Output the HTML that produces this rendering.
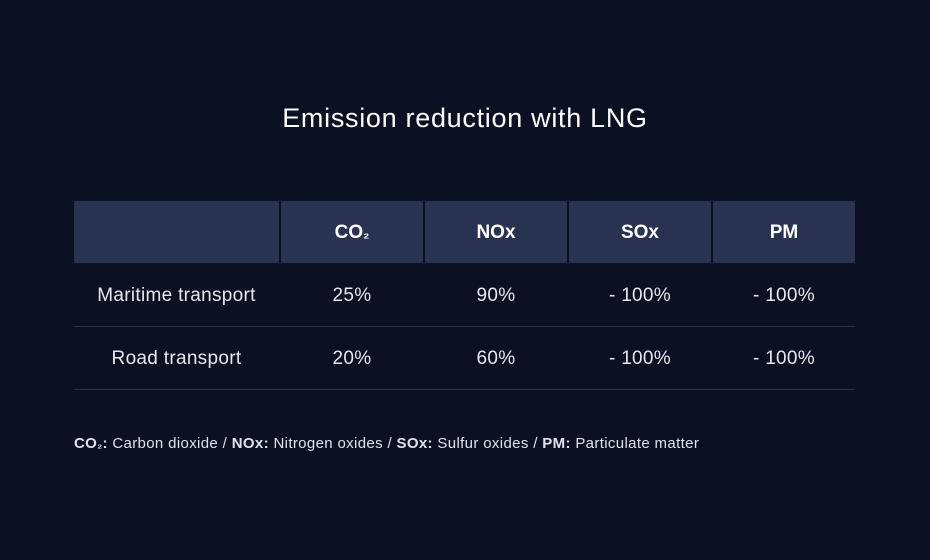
<!DOCTYPE html>
<html><head><style>
body{margin:0;width:930px;height:560px;background:#0b1123;font-family:"Liberation Sans",sans-serif;color:#e6e8ee;position:relative;overflow:hidden}
.a{position:absolute}
.t{left:0;width:930px;top:103px;text-align:center;font-size:27px;color:#fff;letter-spacing:0.7px}
.h{top:201px;height:62px;background:#283352;color:#fff;font-weight:bold;font-size:19px;line-height:64px;text-align:center}
.c{font-size:19px;text-align:center;height:62px;line-height:64px;letter-spacing:0.3px}
.l{left:74px;width:781px;height:1px;background:#29324a}
.f{left:74px;top:435px;font-size:15px;color:#dfe2ea;letter-spacing:0.35px}
</style></head><body>
<div class="a t">Emission reduction with LNG</div>
<div class="a h" style="left:74px;width:205px"></div>
<div class="a h" style="left:281px;width:142px">CO<span style="font-size:14px">₂</span></div>
<div class="a h" style="left:425px;width:142px">NOx</div>
<div class="a h" style="left:569px;width:142px">SOx</div>
<div class="a h" style="left:713px;width:142px">PM</div>

<div class="a c" style="top:264px;left:74px;width:205px">Maritime transport</div>
<div class="a c" style="top:264px;left:281px;width:142px">25%</div>
<div class="a c" style="top:264px;left:425px;width:142px">90%</div>
<div class="a c" style="top:264px;left:569px;width:142px">- 100%</div>
<div class="a c" style="top:264px;left:713px;width:142px">- 100%</div>
<div class="a l" style="top:326px"></div>
<div class="a c" style="top:327px;left:74px;width:205px">Road transport</div>
<div class="a c" style="top:327px;left:281px;width:142px">20%</div>
<div class="a c" style="top:327px;left:425px;width:142px">60%</div>
<div class="a c" style="top:327px;left:569px;width:142px">- 100%</div>
<div class="a c" style="top:327px;left:713px;width:142px">- 100%</div>
<div class="a l" style="top:389px"></div>

<div class="a f"><b>CO<span style="font-size:11px">₂</span>:</b> Carbon dioxide / <b>NOx:</b> Nitrogen oxides / <b>SOx:</b> Sulfur oxides / <b>PM:</b> Particulate matter</div>
</body></html>
